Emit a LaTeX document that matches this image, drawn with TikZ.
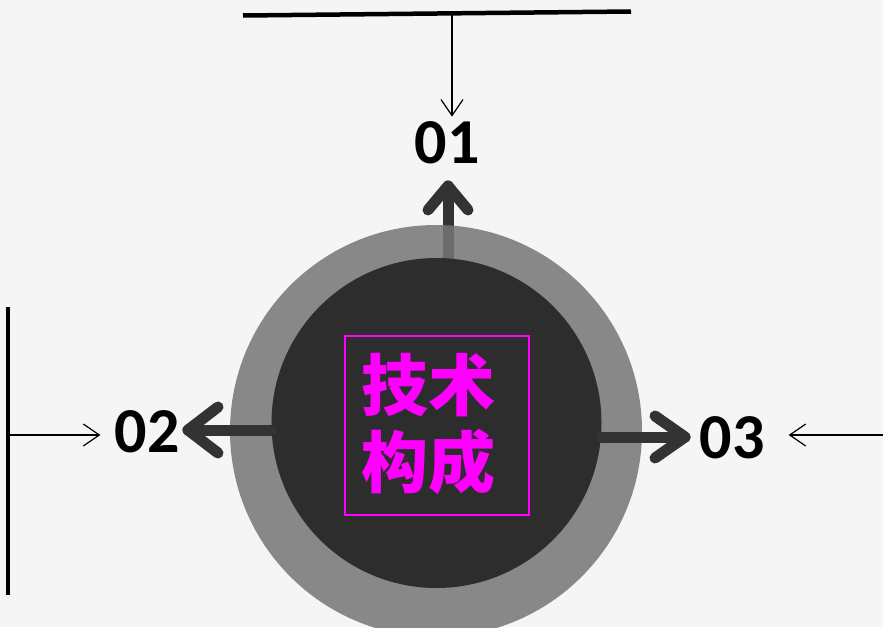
\documentclass[tikz,border=0pt]{standalone}
\usepackage{fontspec}
\setmainfont{Carlito}
\newfontfamily\cjk{Noto Sans CJK SC}
\usetikzlibrary{arrows.meta}
\definecolor{mback}{HTML}{F5F5F5}
\definecolor{mring}{HTML}{757575}
\definecolor{mdisk}{HTML}{2D2D2D}
\definecolor{marrow}{HTML}{333333}
\definecolor{mpink}{HTML}{FF00FF}
\tikzset{thinarrow/.style = {draw=black, line width=1.2pt,
                             -{Straight Barb[length=16pt, width=22pt, line width=1.2pt]}},
         fatarrow/.style = {draw=marrow, line width=11pt, line cap=round, line join=round},
         numlabel/.style = {font=\bfseries\fontsize{64}{64}\selectfont, inner sep=0pt},
         bar/.style = {draw=black, line width=4.5pt}}

\begin{document}
\begin{tikzpicture}[x=1pt, y=-1pt]
    \fill [mback] (0, 0) rectangle (883, 627);
    \useasboundingbox (0, 0) rectangle (883, 627);

    \coordinate (tip01) at (448, 186);
    \coordinate (tip02) at (188, 430);
    \coordinate (tip03) at (685, 437);

    % the up arrow sits under the ring
    \draw [fatarrow] (448, 262) -- (tip01);
    \draw [fatarrow] (tip01) ++(-20, 24) -- (tip01) -- ++(20, 24);

    \node [circle, fill=mring, fill opacity=0.85, minimum size=412pt, inner sep=0pt] (ring) at (436, 431) {};
    \node [circle, fill=mdisk, minimum size=330pt, inner sep=0pt] (disk) at (436.5, 423) {};

    \node [draw=mpink, line width=1.5pt, minimum width=184pt, minimum height=179pt, inner sep=0pt] (box) at (437, 425.5) {};
    \node [text=mpink, font=\cjk\bfseries\fontsize{67}{77}\selectfont, align=center, inner sep=0pt] (title) at (428, 424) {技术\\构成};

    \draw [fatarrow] (disk.west |- tip02) -- (tip02);
    \draw [fatarrow] (tip02) ++(30, -23) -- (tip02) -- ++(30, 23);
    \draw [fatarrow] (disk.east |- tip03) -- (tip03);
    \draw [fatarrow] (tip03) ++(-30, -21) -- (tip03) -- ++(-30, 21);

    \node [numlabel] (n01) at (447, 143) {01};
    \node [numlabel] (n02) at (147, 432) {02};
    \node [numlabel] (n03) at (732, 438) {03};

    \coordinate (topL) at (243, 15.5);
    \coordinate (topR) at (631, 11.5);
    \coordinate (topmid) at (452, 13.5);
    \coordinate (sideT) at (8, 307);
    \coordinate (sideB) at (8, 595);
    \coordinate (sidemid) at (8, 435);
    \coordinate (rightend) at (883, 435);

    \draw [bar] (topL) -- (topR);
    \draw [bar] (sideT) -- (sideB);

    \draw [thinarrow, shorten >=5pt] (topmid) -- (topmid |- n01.north);
    \draw [thinarrow, shorten >=14pt] (sidemid) -- (sidemid -| n02.west);
    \draw [thinarrow, shorten >=24pt] (rightend) -- (rightend -| n03.east);
\end{tikzpicture}
\end{document}
